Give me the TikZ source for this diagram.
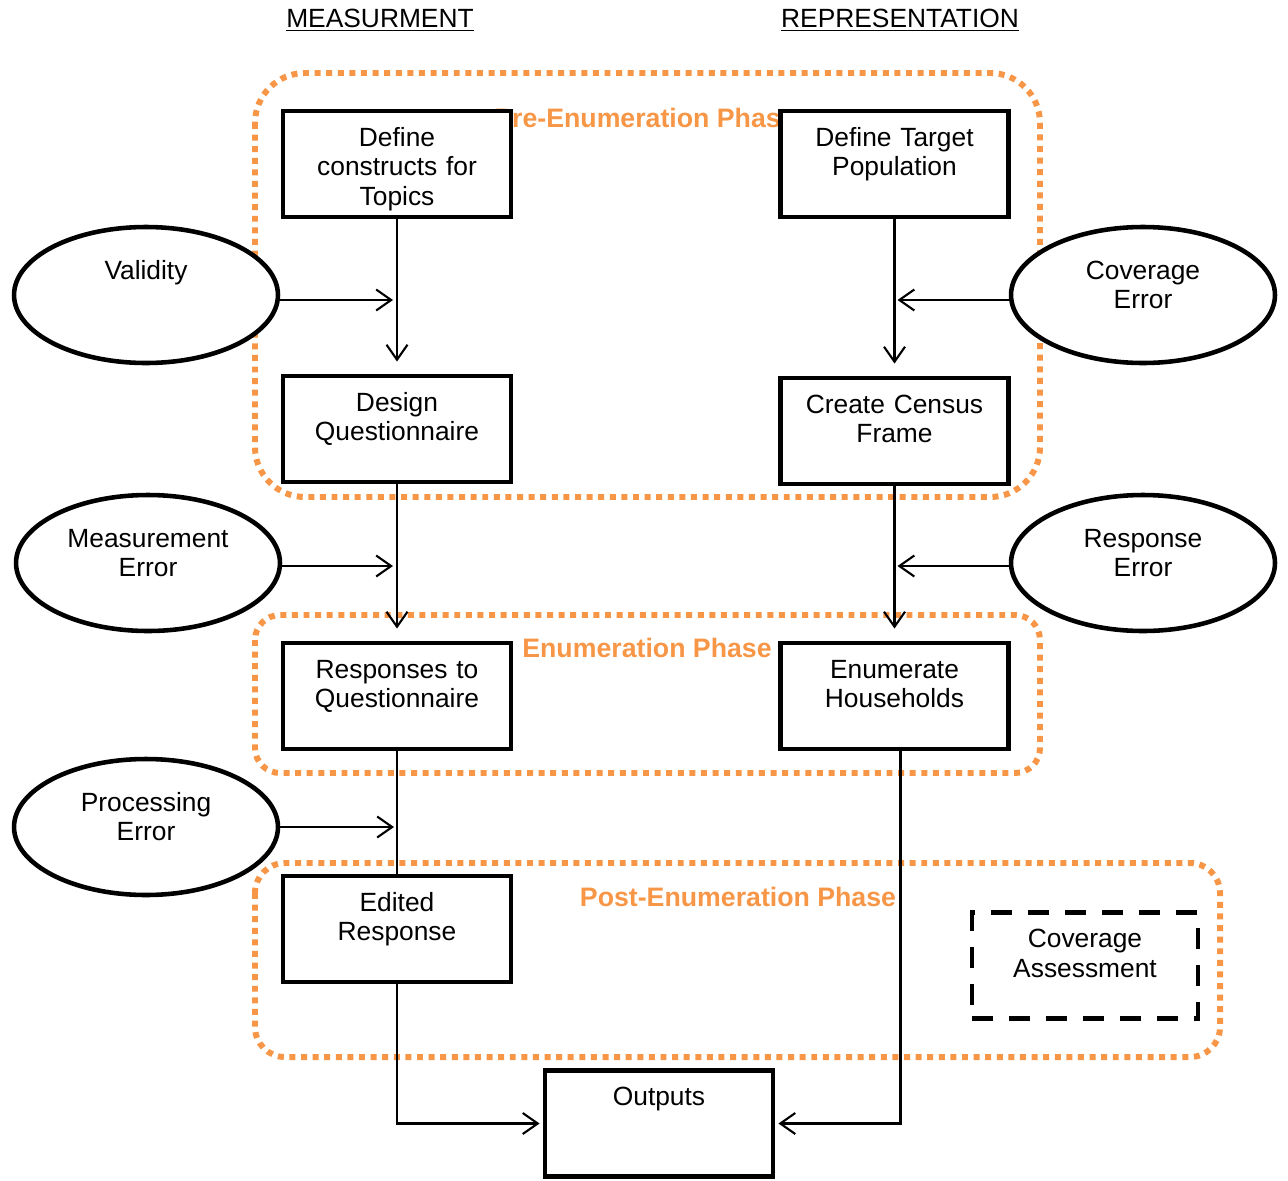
\documentclass[tikz,border=0pt]{standalone}
\usepackage{fontspec}
\setmainfont{Liberation Sans}
\usetikzlibrary{shapes.geometric,arrows.meta,positioning}
\definecolor{phaseorange}{RGB}{247,150,70}

\begin{document}
\begin{tikzpicture}[
  x=0.02cm, y=-0.02cm,
  >={Straight Barb[length=0.3cm,width=0.42cm]},
  every node/.style={font=\fontsize{15}{17}\selectfont},
  box/.style={rectangle, draw, line width=2.8pt, fill=white,
      text width=4.4cm, align=center, minimum width=4.56cm, inner sep=0pt,
      text height=0.7cm, text depth=1.42cm},
  assess/.style={box, minimum width=4.52cm, dash pattern=on 0.42cm off 0.32cm},
  err/.style={ellipse, draw, line width=2.6pt, fill=white,
      text width=3.4cm, align=center,
      minimum width=5.28cm, minimum height=2.72cm, inner sep=0.05cm,
      text height=0.3cm, text depth=0.94cm},
  phase/.style={draw=phaseorange, line width=3.4pt, dash pattern=on 3.4pt off 3.2pt},
  phasetitle/.style={text=phaseorange, font=\fontsize{15.2}{17}\selectfont\bfseries},
  flow/.style={->, line width=1.2pt}
]
\useasboundingbox (0,0) rectangle (1288,1180);

% phase frames
\draw[phase, rounded corners=1cm]   (255,73)  rectangle (1040,497);
\draw[phase, rounded corners=0.5cm] (255,615) rectangle (1040,773);
\draw[phase, rounded corners=0.6cm] (255,863) rectangle (1220,1057);
\node[phasetitle] (prephase)  at (645,118) {Pre-Enumeration Phase};
\node[phasetitle] (enumphase) at (647,648) {Enumeration Phase};
\node[phasetitle] (postphase) at (738,897) {Post-Enumeration Phase};

% column headings
\node (measure) at (380,20) {\underline{MEASURMENT}};
\node (repres)  at (900,20) {\underline{REPRESENTATION}};

% measurement side
\node[box] (constructs) at (397,164)  {Define\\constructs for\\Topics};
\node[box] (design)     at (397,429)  {Design\\Questionnaire};
\node[box] (responses)  at (397,696)  {Responses to\\Questionnaire};
\node[box] (edited)     at (397,929)  {Edited\\Response};

% representation side
\node[box] (target)     at (894.5,164) {Define Target\\Population};
\node[box] (frame)      at (894.5,431) {Create Census\\Frame};
\node[box] (enumerate)  at (894.5,696) {Enumerate\\Households};
\node[assess] (coverassess) at (1085,965.5) {Coverage\\Assessment};

\node[box] (outputs) at (659,1123.5) {Outputs};

% error sources
\node[err] (validity)   at (146,295)  {Validity};
\node[err] (measerr)    at (148,563)  {Measurement\\Error};
\node[err] (procerr)    at (146,827)  {Processing\\Error};
\node[err] (coverr)     at (1143,295) {Coverage\\Error};
\node[err] (resperr)    at (1143,563) {Response\\Error};

% connectors
\draw[flow, shorten >=0.24cm] (constructs) -- (design);
\draw[flow, shorten >=0.24cm] (design) -- (responses);
\draw[line width=1.2pt] (responses) -- (edited);
\draw[flow, shorten >=0.24cm] (target) -- (frame);
\draw[flow, shorten >=0.24cm] (frame) -- (enumerate);

\draw[flow, shorten >=0.08cm] ([yshift=-0.1cm]validity.east) -- ([yshift=-0.1cm]validity.east -| constructs.south);
\draw[flow, shorten >=0.08cm] ([yshift=-0.06cm]measerr.east) -- ([yshift=-0.06cm]measerr.east -| design.south);
\draw[flow, shorten >=0.06cm] (procerr.east) -- (procerr.east -| responses.south);
\draw[flow, shorten >=0.06cm] ([yshift=-0.1cm]coverr.west) -- ([yshift=-0.1cm]coverr.west -| target.south);
\draw[flow, shorten >=0.06cm] ([yshift=-0.06cm]resperr.west) -- ([yshift=-0.06cm]resperr.west -| frame.south);

\draw[flow, shorten >=0.06cm] (edited.south) |- (outputs.west);
\draw[flow, shorten >=0.06cm] ([xshift=0.12cm]enumerate.south) |- (outputs.east);
\end{tikzpicture}
\end{document}
